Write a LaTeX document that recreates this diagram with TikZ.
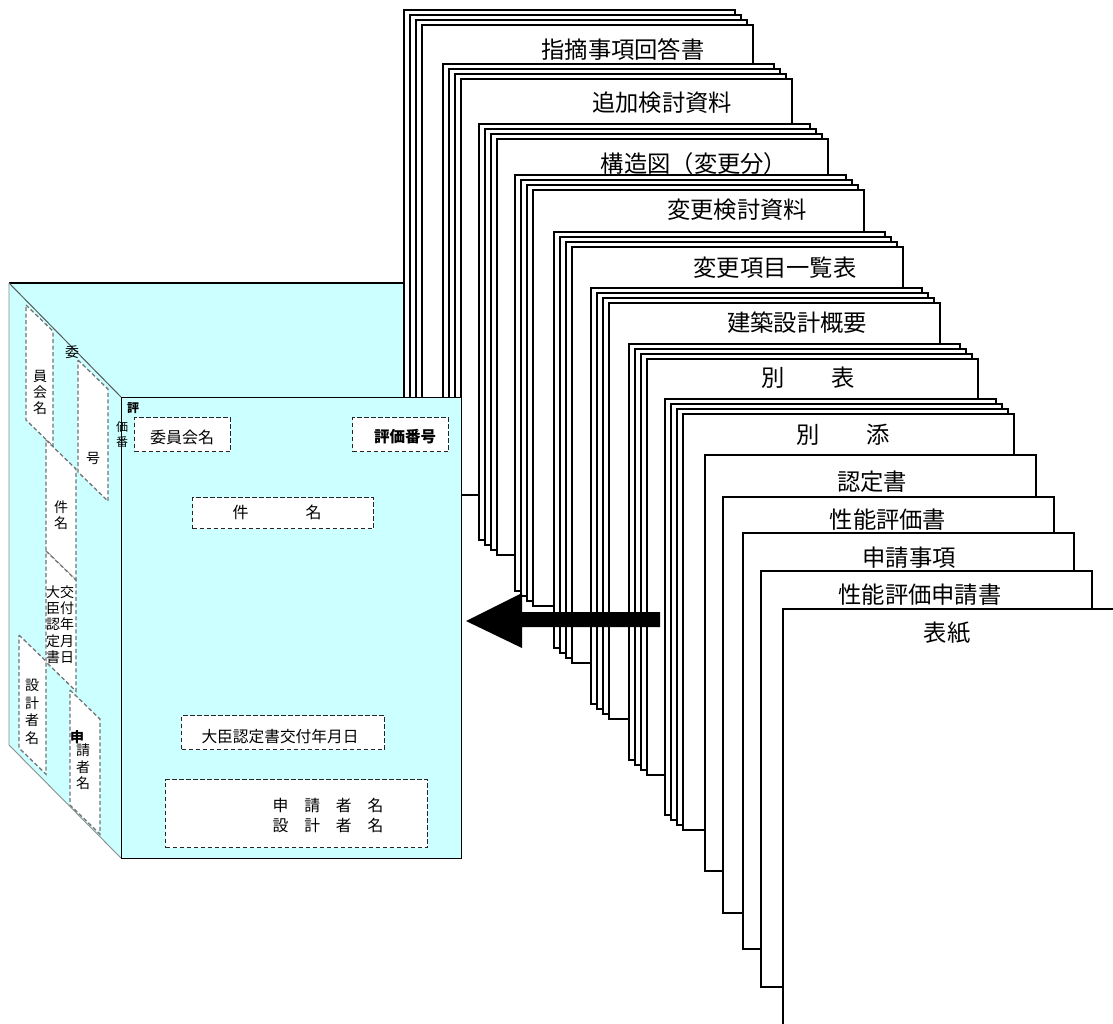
\documentclass[tikz,border=0pt]{standalone}
\usepackage{fontspec}
\newfontfamily\cjk{Noto Sans CJK JP}
\definecolor{cyanlight}{RGB}{204,255,255}
\begin{document}
\begin{tikzpicture}[x=1pt,y=-1pt,
  sheet/.style={fill=white,draw=black,line width=1.5pt},
  sheetlabel/.style={font=\cjk\fontsize{23.3}{24}\selectfont,inner sep=0pt},
  smalltext/.style={font=\cjk\fontsize{14}{16}\selectfont,inner sep=0pt,align=center},
  tinytext/.style={font=\cjk\fontsize{12}{14}\selectfont,inner sep=0pt},
  fronttext/.style={font=\cjk\fontsize{16}{20}\selectfont,inner sep=0pt,align=center},
  dbox/.style={fill=white,draw=black!85,line width=1.3pt,dash pattern=on 4.5pt off 2.5pt,inner sep=0pt},
  sidebox/.style={fill=white,draw=black!55,line width=1.3pt,dash pattern=on 4pt off 2.5pt},
  arrowshape/.style={fill=black}]
\useasboundingbox (0,0) rectangle (1113,1023);
\clip (0,0) rectangle (1113,1023);
% back cover
\fill[cyanlight] (9,283) rectangle (430,745);
\draw[line width=1.2pt] (9,283) -- (430,283);
% stacked sheets
\foreach \L/\T/\n/\tx/\ty/\lab [count=\k] in {
  422/25/4/623/50/指摘事項回答書,
  461/79/4/662/103/追加検討資料,
  497/139/4/694/164/構造図（変更分）,
  533/190/4/737/210/変更検討資料,
  572/247/4/775/268/変更項目一覧表,
  609/303/4/797/323/建築設計概要,
  647/359/4/808/378/別　　表,
  683/414/4/843/435/別　　添,
  705/455/1/872/482/認定書,
  723/497/1/888/520/性能評価書,
  743/533/1/909/558/申請事項,
  761/571/1/920/595/性能評価申請書,
  783/609/1/947/633/表紙}{
  \pgfmathtruncatemacro{\m}{\n-1}
  \foreach \i in {\m,...,0}{
    \draw[sheet] ({\L-6*\i},{\T-5*\i}) rectangle ++(331,416);
  }
  \node[sheetlabel] (lab\k) at (\tx,\ty) {\lab};
}
% side face
\fill[cyanlight] (9,283) -- (121,397) -- (121,858) -- (9,745) -- cycle;
\draw[black!65,line width=1pt] (9,283) -- (121,397);
\draw[black!45,line width=0.9pt] (9,283) -- (9,745) -- (121,858);
% side boxes
\newcommand\sidepar[4]{\draw[sidebox] (#1,#3) -- (#2,{#3+0.97*(#2-#1)}) -- (#2,{#4+0.97*(#2-#1)}) -- (#1,#4) -- cycle;}
\sidepar{26}{53}{305}{420}
\sidepar{78}{108}{360}{472}
\sidepar{46}{76}{440}{551}
\sidepar{46}{76}{551}{662}
\sidepar{19}{46}{635}{748}
\sidepar{70}{100}{690}{805}
\node[smalltext] (s1) at (72,352) {委};
\node[smalltext] (s2) at (40,392) {員\\会\\名};
\node[smalltext] (s3) at (93,458) {号};
\node[smalltext] (s4) at (61,515) {件\\名};
\node[smalltext,font=\cjk\fontsize{14}{16.2}\selectfont] (s5) at (53,624.5) {大\\臣\\認\\定\\書};
\node[smalltext,font=\cjk\fontsize{14}{16.2}\selectfont] (s6) at (67,624.5) {交\\付\\年\\月\\日};
\node[smalltext,font=\cjk\fontsize{14}{17.5}\selectfont] (s7) at (32,712) {設\\計\\者\\名};
\node[smalltext,font=\cjk\bfseries\fontsize{14}{16}\selectfont] (s8) at (77,737) {申};
\node[smalltext,font=\cjk\fontsize{14}{16.5}\selectfont] (s9) at (83,767) {請\\者\\名};
% front cover
\node[draw=black,fill=cyanlight,line width=1.3pt,minimum width=340pt,minimum height=461pt,anchor=north west,inner sep=0pt] (front) at (121,397) {};
\node[tinytext,font=\cjk\bfseries\fontsize{12}{14}\selectfont] (f1) at (133,408) {評};
\node[tinytext] (f2) at (122,427) {価};
\node[tinytext] (f3) at (122,442) {番};
\node[dbox,minimum width=96pt,minimum height=34pt,anchor=north west] (iinkai) at (134,417) {};
\node[fronttext] (iinkaiT) at (182,437) {委員会名};
\node[dbox,minimum width=96pt,minimum height=34pt,anchor=north west] (bango) at (352,417) {};
\node[fronttext,font=\cjk\bfseries\fontsize{15.5}{20}\selectfont] (bangoT) at (405,437) {評価番号};
\node[dbox,minimum width=181pt,minimum height=31pt,anchor=north west] (kenmei) at (192,497) {};
\node[fronttext] (kenmeiT) at (277,512) {件\hspace{57pt}名};
\node[dbox,minimum width=203pt,minimum height=34pt,anchor=north west] (daijin) at (181,715) {};
\node[fronttext,font=\cjk\fontsize{15.7}{20}\selectfont] (daijinT) at (280,737) {大臣認定書交付年月日};
\node[dbox,minimum width=262pt,minimum height=68pt,anchor=north west] (names) at (165,779) {};
\node[fronttext,font=\cjk\fontsize{15.8}{20}\selectfont] (namesT) at (328,815) {申　請　者　名\\設　計　者　名};
% arrow
\coordinate (atip) at (466,621);
\coordinate (atail) at (660,619.5);
\fill[arrowshape] (atip) -- (522,593) -- (522,612) -- (660,612) -- (660,627) -- (522,627) -- (522,648) -- cycle;
\end{tikzpicture}
\end{document}
